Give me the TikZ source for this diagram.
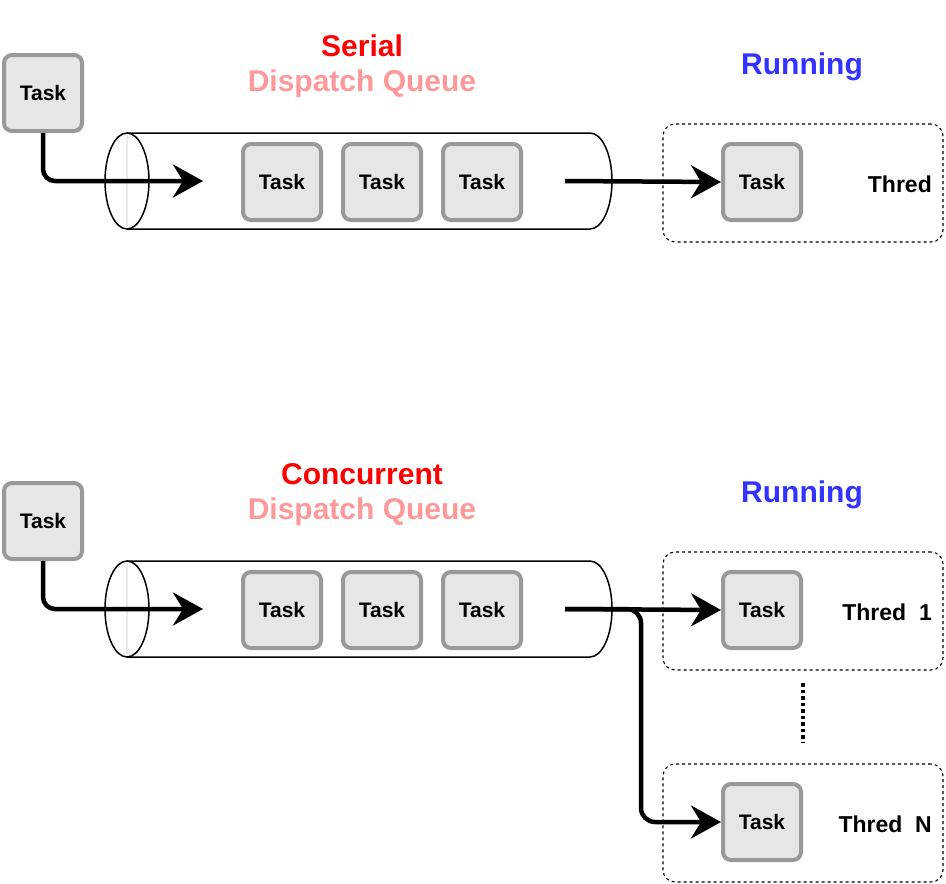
\documentclass[tikz,border=0pt]{standalone}
\usepackage{fontspec}
\setmainfont{Liberation Sans}
\usetikzlibrary{arrows.meta}
\definecolor{taskline}{HTML}{999999}
\definecolor{taskfill}{HTML}{E6E6E6}
\definecolor{titlered}{HTML}{FF0000}
\definecolor{titlepink}{HTML}{FF9999}
\definecolor{runblue}{HTML}{3333FF}
\begin{document}
\begin{tikzpicture}[x=1pt,y=-1pt,
  task/.style={draw=taskline, fill=taskfill, line width=4pt, rounded corners=8pt, minimum width=78pt, minimum height=76pt, inner sep=0pt, font=\bfseries\fontsize{21}{25}\selectfont},
  thread/.style={draw, dashed, line width=1.1pt, rounded corners=12pt, minimum width=280pt, minimum height=118pt},
  flow/.style={line width=4.5pt, -{Stealth[length=30pt,width=33pt,inset=10pt]}},
  tube/.style={line width=1.5pt},
  title/.style={font=\bfseries\fontsize{30}{36}\selectfont, inner sep=0pt},
  tlabel/.style={font=\bfseries\fontsize{23}{28}\selectfont, inner sep=0pt, anchor=east}]
\useasboundingbox (0,0) rectangle (946,884);
% serial queue
\node[title, titlered] (stitle) at (362,46) {Serial};
\node[title, titlepink] (sname) at (362,84) {Dispatch Queue};
\node[title, runblue] (srun) at (802,67) {Running};
\draw[tube] (127,133) -- (590,133) arc[start angle=-90, end angle=90, x radius=22, y radius=48] -- (127,229);
\draw[draw=black!8, line width=1.5pt] (127,135) -- (127,227);
\draw[tube] (127,181) ellipse[x radius=22, y radius=48];
\node[task] (st0) at (43,93) {Task};
\node[task] (sq1) at (282,182) {Task};
\node[task] (sq2) at (382,182) {Task};
\node[task] (sq3) at (482,182) {Task};
\node[thread] (sth) at (803,183) {};
\node[task] (sr1) at (762,182) {Task};
\node[tlabel] (sl1) at (932,184) {Thred};
\coordinate (sin) at (203,181);
\coordinate (sout) at (565,181);
\draw[flow, rounded corners=12pt] (st0.south) |- (sin);
\draw[flow] (sout) -- (sr1.west);
% concurrent queue
\node[title, titlered] (ctitle) at (362,474) {Concurrent};
\node[title, titlepink] (cname) at (362,512) {Dispatch Queue};
\node[title, runblue] (crun) at (802,495) {Running};
\draw[tube] (127,561) -- (590,561) arc[start angle=-90, end angle=90, x radius=22, y radius=48] -- (127,657);
\draw[draw=black!8, line width=1.5pt] (127,563) -- (127,655);
\draw[tube] (127,609) ellipse[x radius=22, y radius=48];
\node[task] (ct0) at (43,521) {Task};
\node[task] (cq1) at (282,610) {Task};
\node[task] (cq2) at (382,610) {Task};
\node[task] (cq3) at (482,610) {Task};
\node[thread] (cth1) at (803,611) {};
\node[thread] (cthn) at (803,823) {};
\node[task] (cr1) at (762,610) {Task};
\node[task] (crn) at (762,822) {Task};
\node[tlabel] (cl1) at (932,612) {Thred~~1};
\node[tlabel] (cln) at (932,824) {Thred~~N};
\coordinate (cin) at (203,609);
\coordinate (cout) at (565,609);
\coordinate (cdots) at (803,683);
\draw[flow, rounded corners=14pt] (cout) -- (641,609) |- (crn.west);
\draw[flow] (cout) -- (cr1.west);
\draw[flow, rounded corners=12pt] (ct0.south) |- (cin);
\draw[line width=4pt, dash pattern=on 3.5pt off 3pt] (cdots) -- ++(0,59);
\end{tikzpicture}
\end{document}
